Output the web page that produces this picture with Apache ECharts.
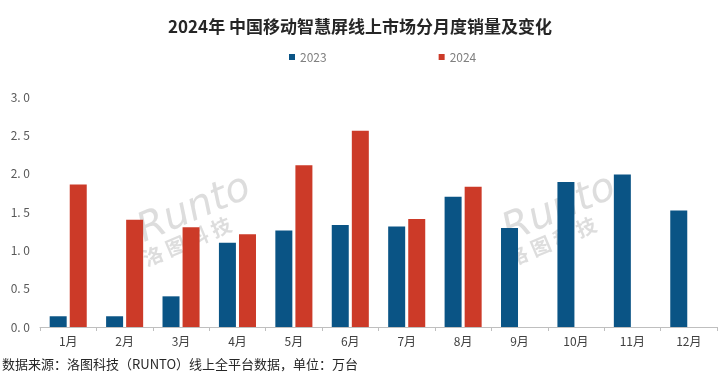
<!DOCTYPE html>
<html>
<head>
<meta charset="utf-8">
<script src="https://cdn.jsdelivr.net/npm/echarts@6/dist/echarts.min.js"></script>
<style>
  html, body { margin: 0; padding: 0; background: #fff; }
  #chart { width: 720px; height: 376px; }
</style>
</head>
<body>
<div id="chart"></div>
<script>
const months = ['1月', '2月', '3月', '4月', '5月', '6月', '7月', '8月', '9月', '10月', '11月', '12月']
const sales2023 = [0.14, 0.14, 0.40, 1.10, 1.26, 1.33, 1.31, 1.70, 1.29, 1.89, 1.99, 1.52]
const sales2024 = [1.86, 1.40, 1.30, 1.21, 2.11, 2.56, 1.41, 1.83, null, null, null, null]

const chart = echarts.init(document.getElementById('chart'))
const font = '"Noto Sans CJK SC", "Noto Sans", sans-serif'
const markColor = 'rgba(170,170,170,0.4)'

const option = {
  animation: false,
  title: {
    text: '2024年 中国移动智慧屏线上市场分月度销量及变化',
    left: 'center',
    top: 13,
    textStyle: { fontFamily: font, fontSize: 17, fontWeight: 'bold', color: '#262626' }
  },
  legend: {
    top: 46,
    left: 284,
    icon: 'rect',
    itemWidth: 6,
    itemHeight: 6,
    itemGap: 112,
    textStyle: { fontFamily: font, fontSize: 12, color: '#7f7f7f' }
  },
  grid: { left: 40, right: 3, top: 97, bottom: 49 },
  xAxis: {
    type: 'category',
    data: months,
    axisLine: { lineStyle: { color: '#bfbfbf', width: 1 } },
    axisTick: { show: true, length: 4, lineStyle: { color: '#bfbfbf' } },
    axisLabel: { fontFamily: font, fontSize: 12, color: '#404040', margin: 8 }
  },
  yAxis: {
    type: 'value',
    min: 0,
    max: 3,
    interval: 0.5,
    splitLine: { show: false },
    axisLine: { show: false },
    axisTick: { show: false },
    axisLabel: {
      fontFamily: font,
      fontSize: 12,
      color: '#595959',
      margin: 10,
      formatter: v => v.toFixed(1).replace('.', '. ')
    }
  },
  graphic: [
    // 水印
    {
      type: 'text', left: 132, top: 168, rotation: 0.4,
      style: { text: 'Runto', fontFamily: 'DejaVu Sans', fontStyle: 'italic', fontSize: 40, fill: markColor }
    },
    {
      type: 'text', left: 140, top: 214, rotation: 0.4,
      style: { text: '洛 图 科 技', fontFamily: font, fontWeight: 'bold', fontSize: 20, fill: markColor }
    },
    {
      type: 'text', left: 497, top: 168, rotation: 0.4,
      style: { text: 'Runto', fontFamily: 'DejaVu Sans', fontStyle: 'italic', fontSize: 40, fill: markColor }
    },
    {
      type: 'text', left: 505, top: 214, rotation: 0.4,
      style: { text: '洛 图 科 技', fontFamily: font, fontWeight: 'bold', fontSize: 20, fill: markColor }
    },
    {
      type: 'text', left: 2, top: 358,
      style: { text: '数据来源：洛图科技（RUNTO）线上全平台数据，单位：万台', fontFamily: font, fontSize: 13, fill: '#262626' }
    }
  ],
  series: [
    {
      name: '2023',
      type: 'bar',
      data: sales2023,
      barWidth: 17,
      barGap: '18%',
      itemStyle: { color: '#0a5485' }
    },
    {
      name: '2024',
      type: 'bar',
      data: sales2024,
      barWidth: 17,
      itemStyle: { color: '#cc3a28' }
    }
  ]
}

chart.setOption(option)
window.onresize = function() {
  chart.resize()
}
</script>
</body>
</html>
